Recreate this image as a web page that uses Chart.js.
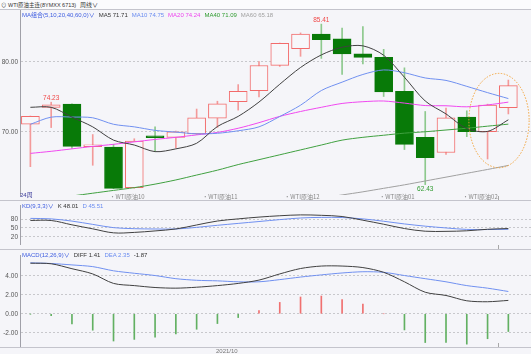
<!DOCTYPE html>
<html lang="zh">
<head>
<meta charset="UTF-8">
<title>WTI原油主连 周线</title>
<script src="https://cdn.jsdelivr.net/npm/chart.js"></script>
<style>
    body { margin: 0; background: #f5f5f9; }
    #wrap { position: relative; width: 531px; height: 354px; overflow: hidden; background: #f5f5f9;
            font-family: "Liberation Sans", "Noto Sans CJK SC", sans-serif; }
    canvas { position: absolute; left: 0; }
    .txt { position: absolute; font-size: 6px; line-height: 8px; white-space: nowrap; }
    .txt span { margin-right: 4px; }
    .hline { position: absolute; left: 0; width: 531px; height: 1px; background: #c4c4cc; }
    #topbar { position: absolute; left: 0; top: 0; width: 531px; height: 9px; background: #fbfbfd; }
    .mark { position: absolute; width: 1px; background: #a8a8a8; }
</style>
</head>
<body>
<div id="wrap">
    <canvas id="mainChart" width="531" height="201" style="top:0"></canvas>
    <canvas id="kdChart" width="531" height="50" style="top:200px"></canvas>
    <canvas id="macdChart" width="531" height="104" style="top:250px"></canvas>

    <div id="topbar"></div>
    <div class="txt" style="left:1px;top:0.5px;color:#333;font-size:5.5px">⊙ WTI原油主连(8YMXX 6713)</div>
    <div class="txt" style="left:80px;top:0.5px;color:#333">周线∨</div>
    <div class="hline" style="top:9px"></div>
    <div class="hline" style="top:200px"></div>
    <div class="hline" style="top:249px"></div>
    <div class="hline" style="top:347px"></div>

    <div class="txt" style="left:22px;top:10.5px">
        <span style="color:#3d5ce0">MA组合(5,10,20,40,60,0)∨</span><span style="color:#333">MA5 71.71</span><span style="color:#6a8cf0">MA10 74.75</span><span style="color:#ee44ee">MA20 74.24</span><span style="color:#2f9b2f">MA40 71.09</span><span style="color:#a0a0a0">MA60 65.18</span>
    </div>
    <div class="txt" style="left:20px;top:191px;color:#3a3a9a">24周</div>
    <div class="txt" style="left:22px;top:201.5px">
        <span style="color:#3d5ce0">KD(9,3,3)∨</span><span style="color:#333">K 48.01</span><span style="color:#6a8cf0">D 45.51</span>
    </div>
    <div class="txt" style="left:22px;top:250.5px">
        <span style="color:#3d5ce0">MACD(12,26,9)∨</span><span style="color:#333">DIFF 1.41</span><span style="color:#6a8cf0">DEA 2.35</span><span style="color:#333">-1.87</span>
    </div>
    <div class="txt" style="left:216px;top:346.5px;color:#777">2021/10</div>
    <div class="mark" style="left:498px;top:196px;height:4px"></div>
    <div class="mark" style="left:498px;top:245px;height:4px"></div>
    <div class="mark" style="left:498px;top:343px;height:4px"></div>
</div>

<script>
    // weekly candles, 24 weeks
    var opens  = [71.07, 73.49, 73.95, 67.87, 67.8, 62.0, 69.4, 69.2, 69.68, 71.95, 74.3, 75.87,
                  79.5, 81.9, 84.0, 83.3, 81.15, 80.65, 75.8, 69.2, 67.03, 72.1, 70.0, 73.45];
    var closes = [72.19, 73.86, 67.9, 68.14, 61.9, 68.65, 69.16, 70.0, 72.0, 74.0, 75.8, 79.49,
                  82.65, 84.0, 83.2, 81.15, 80.65, 75.7, 68.2, 66.3, 72.0, 70.0, 73.8, 76.6];
    var highs  = [72.25, 74.23, 74.0, 69.6, 68.2, 69.0, 70.7, 70.1, 73.25, 74.37, 76.75, 80.04,
                  82.7, 84.15, 85.41, 84.85, 85.05, 81.8, 79.15, 72.9, 73.4, 73.0, 73.95, 77.4];
    var lows   = [65.0, 70.6, 67.6, 65.2, 61.85, 61.9, 67.2, 67.7, 69.6, 70.6, 73.1, 74.97,
                  79.35, 80.8, 80.5, 78.2, 79.7, 75.05, 67.45, 62.43, 66.75, 69.3, 66.1, 72.55];

    var ma5  = [73.5, 73.5, 72.1, 70.7, 68.8, 68.1, 67.15, 67.55, 68.35, 70.75, 72.2, 74.25,
                76.8, 79.2, 81.0, 82.1, 82.3, 80.95, 77.8, 74.4, 72.55, 70.45, 70.05, 71.71];
    var ma10 = [71.07, 72.09, 72.1, 72.0, 71.07, 70.7, 70.2, 69.95, 69.7, 69.78, 70.14, 70.7,
                72.18, 73.8, 75.9, 77.1, 78.2, 78.85, 78.45, 77.7, 77.35, 76.5, 75.6, 74.75];
    var ma20 = [66.9, 67.2, 67.55, 67.9, 68.2, 68.55, 68.9, 69.2, 69.55, 69.9, 70.5, 71.3,
                72.2, 72.9, 73.5, 74.05, 74.3, 74.4, 74.1, 73.75, 73.72, 73.57, 73.84, 74.24];
    var ma40 = [59.9, 60.4, 60.8, 61.2, 61.6, 62.0, 62.5, 63.1, 63.8, 64.5, 65.3, 66.0,
                66.7, 67.4, 68.1, 68.8, 69.2, 69.5, 69.8, 70.0, 70.25, 70.5, 70.8, 71.09];
    var ma60 = [53.4, 53.9, 54.4, 54.9, 55.4, 55.9, 56.4, 56.9, 57.4, 57.9, 58.4, 58.9,
                59.4, 60.05, 60.5, 60.95, 61.4, 61.9, 62.4, 62.95, 63.5, 64.05, 64.6, 65.18];

    var kLine = [75.2, 75.0, 60.5, 47.0, 33.5, 35.0, 40.0, 46.5, 60.0, 73.3, 80.5, 86.5,
                 91.0, 93.9, 92.5, 88.5, 76.0, 62.5, 48.0, 39.0, 38.5, 40.4, 45.5, 48.01];
    var dLine = [82.1, 80.5, 73.0, 62.0, 51.0, 47.5, 46.5, 46.5, 52.0, 58.9, 65.3, 71.6,
                 78.0, 83.5, 85.5, 85.0, 80.5, 72.5, 63.5, 56.0, 50.0, 45.0, 44.6, 45.51];

    var diff = [5.33, 5.27, 4.75, 4.2, 3.2, 2.97, 2.77, 2.7, 2.8, 2.97, 3.2, 3.55,
                4.2, 4.77, 5.03, 5.03, 4.87, 4.37, 3.37, 2.27, 1.93, 1.37, 1.27, 1.41];
    var dea  = [5.37, 5.3, 5.15, 4.97, 4.53, 4.27, 4.03, 3.7, 3.53, 3.47, 3.37, 3.37,
                3.6, 3.87, 4.1, 4.3, 4.43, 4.37, 4.03, 3.7, 3.37, 2.97, 2.7, 2.35];
    var macdBars = [-0.03, -0.2, -1.07, -1.73, -2.87, -2.7, -2.47, -2.13, -1.63, -1.03, -0.4, 0.33,
                    1.2, 1.77, 1.87, 1.5, 1.03, 0, -1.7, -3.03, -3.03, -3.2, -2.63, -1.87];

    // tick labels
    var mainTicks = [70, 80];
    var kdTicks = [20, 50, 80];
    var macdTicks = [-2, 0, 2, 4];
    var contractLabels = ['·WTI原油10', '·WTI原油11', '·WTI原油12', '·WTI原油01', '·WTI原油02'];
    var contractAt = [4.65, 9.12, 13.07, 17.64, 21.64];
    // marked extremes: [week index, value, above?]
    var extremes = [[1, 74.23, true], [14, 85.41, true], [19, 62.43, false]];

    var UP = '#f26b6b', UP_WICK = '#f39a9a', DOWN = '#087a08', DOWN_WICK = '#8dc98d', BG = '#f7f7fa';
    var XMIN = -0.5, XMAX = 24.09;

    function pts(arr) { return arr.map(function (v, i) { return { x: i, y: v }; }); }

    function line(arr, color) {
        return { type: 'line', data: pts(arr), borderColor: color, borderWidth: 1,
                 pointRadius: 0, tension: 0.3, order: 0 };
    }

    function yAxis(min, max, ticks, digits) {
        return {
            type: 'linear', min: min, max: max, position: 'left',
            afterFit: function (s) { s.width = 20; },
            afterBuildTicks: function (s) { s.ticks = ticks.map(function (v) { return { value: v }; }); },
            ticks: { padding: 2, font: { size: 6.5, family: 'Liberation Sans' }, color: '#555',
                     callback: function (v) { return Number(v).toFixed(digits); } },
            grid: { color: '#c8c8cc', drawTicks: false },
            border: { display: true, color: '#a0a0a8', dash: [2, 2] }
        };
    }

    var xAxis = { type: 'linear', min: XMIN, max: XMAX, offset: false, display: false };

    var common = {
        responsive: false, animation: false, devicePixelRatio: 1,
        plugins: { legend: { display: false }, tooltip: { enabled: false } },
        datasets: { bar: { grouped: false } }
    };

    // extreme labels, contract labels, circle
    var markPlugin = {
        id: 'marks',
        afterDatasetsDraw: function (chart) {
            var ctx = chart.ctx, xs = chart.scales.x, ys = chart.scales.y;
            ctx.save();
            ctx.font = '6.5px "Liberation Sans", sans-serif';
            ctx.textAlign = 'center';
            extremes.forEach(function (e) {
                var x = xs.getPixelForValue(e[0]), y = ys.getPixelForValue(e[1]);
                ctx.fillStyle = e[2] ? '#f04848' : '#2f9b2f';
                ctx.textBaseline = e[2] ? 'bottom' : 'top';
                ctx.fillText(e[1].toFixed(2), x, e[2] ? y - 0.5 : y + 1.5);
            });
            ctx.fillStyle = '#888';
            ctx.textBaseline = 'middle';
            ctx.font = '6px "Noto Sans CJK SC", sans-serif';
            contractLabels.forEach(function (t, i) {
                ctx.fillText(t, xs.getPixelForValue(contractAt[i]), 197);
            });
            // dotted orange ring around the last weeks
            var cx = xs.getPixelForValue(22.55), cy = ys.getPixelForValue(71.6);
            var rx = xs.getPixelForValue(24.0) - cx, ry = ys.getPixelForValue(64.84) - cy;
            ctx.beginPath();
            ctx.ellipse(cx, cy, rx, ry, 0, 0, Math.PI * 2);
            ctx.strokeStyle = '#f2a33a';
            ctx.lineWidth = 1;
            ctx.setLineDash([1.5, 1.5]);
            ctx.stroke();
            ctx.restore();
        }
    };

    var up = closes.map(function (c, i) { return c >= opens[i]; });

    new Chart(document.getElementById('mainChart'), {
        type: 'bar',
        data: {
            datasets: [
                line(ma5, '#404040'),
                line(ma10, '#7090f0'),
                line(ma20, '#f048f0'),
                line(ma40, '#40a040'),
                line(ma60, '#a0a0a0'),
                {
                    data: highs.map(function (h, i) { return { x: i, y: [lows[i], h] }; }),
                    backgroundColor: up.map(function (u) { return u ? UP_WICK : DOWN_WICK; }),
                    barThickness: 1, borderWidth: 0, order: 3
                },
                {
                    data: opens.map(function (o, i) { return { x: i, y: [o, closes[i]] }; }),
                    backgroundColor: up.map(function (u) { return u ? BG : DOWN; }),
                    borderColor: up.map(function (u) { return u ? UP : DOWN; }),
                    borderWidth: 1, borderSkipped: false, barThickness: 18, order: 2
                }
            ]
        },
        options: Object.assign({}, common, {
            layout: { padding: { top: 10, bottom: 1, left: 0, right: 0 } },
            scales: { x: xAxis, y: yAxis(60.93, 87.43, mainTicks, 2) }
        }),
        plugins: [markPlugin]
    });

    new Chart(document.getElementById('kdChart'), {
        type: 'line',
        data: {
            datasets: [
                { data: pts(kLine), borderColor: '#404040', borderWidth: 1, pointRadius: 0, tension: 0.35 },
                { data: pts(dLine), borderColor: '#7090f0', borderWidth: 1, pointRadius: 0, tension: 0.35 }
            ]
        },
        options: Object.assign({}, common, {
            layout: { padding: { top: 1, bottom: 1, left: 0, right: 0 } },
            scales: { x: xAxis, y: yAxis(-4.4, 124.2, kdTicks, 0) }
        })
    });

    new Chart(document.getElementById('macdChart'), {
        type: 'bar',
        data: {
            datasets: [
                line(diff, '#404040'),
                line(dea, '#7090f0'),
                {
                    data: pts(macdBars),
                    backgroundColor: macdBars.map(function (v) { return v >= 0 ? '#f07070' : '#62b062'; }),
                    barThickness: 1, borderWidth: 0, order: 2
                }
            ]
        },
        options: Object.assign({}, common, {
            layout: { padding: { top: 1, bottom: 7, left: 0, right: 0 } },
            scales: { x: xAxis, y: yAxis(-3.5, 6.1, macdTicks, 2) }
        })
    });
</script>
</body>
</html>
